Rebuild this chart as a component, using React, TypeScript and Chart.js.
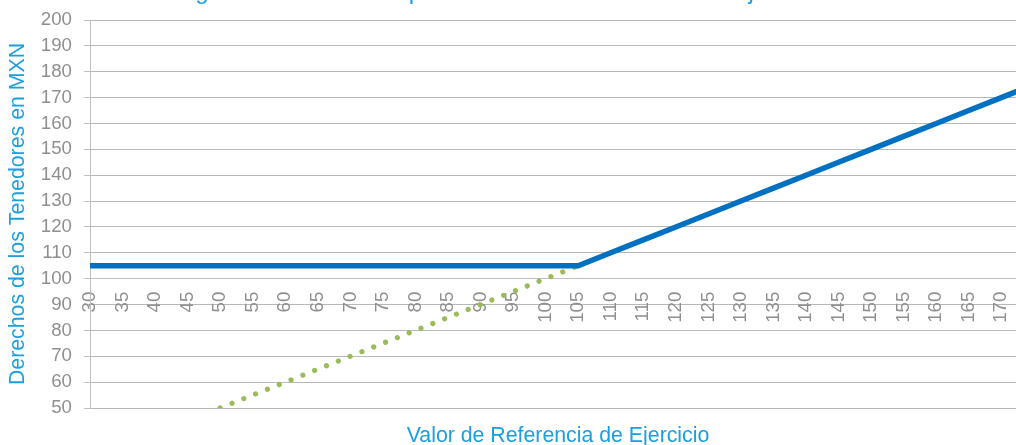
import React, { useEffect, useRef } from 'react';
import { Chart, registerables } from 'chart.js';

Chart.register(...registerables);

// ---- Data ----
const strikes = [30, 35, 40, 45, 50, 55, 60, 65, 70, 75, 80, 85, 90, 95, 100, 105, 110, 115, 120, 125, 130, 135, 140, 145, 150, 155, 160, 165, 170, 175];
const holderRights = [105, 105, 105, 105, 105, 105, 105, 105, 105, 105, 105, 105, 105, 105, 105, 105, 110, 115, 120, 125, 130, 135, 140, 145, 150, 155, 160, 165, 170, 175];
const referenceValue: (number | null)[] = [null, null, null, null, 50, 55, 60, 65, 70, 75, 80, 85, 90, 95, 100, 105, null, null, null, null, null, null, null, null, null, null, null, null, null, null];
const xTickValues = [30, 35, 40, 45, 50, 55, 60, 65, 70, 75, 80, 85, 90, 95, 100, 105, 110, 115, 120, 125, 130, 135, 140, 145, 150, 155, 160, 165, 170];
const yMin = 50;
const yMax = 200;
const yStep = 10;
const xAxisCross = 100;

const chartTitle = 'Pagos de los Títulos Opcionales relativos al Valor de Ejercicio';
const xTitle = 'Valor de Referencia de Ejercicio';
const yTitle = 'Derechos de los Tenedores en MXN';

const FONT = '"Liberation Sans", Arial, sans-serif';
const BLUE_TEXT = '#1a9fe0';
const GRAY_TEXT = '#8f8f8f';
const AXIS_GRAY = '#bfbfbf';

const textOverlay = {
  id: 'textOverlay',
  afterDraw(chart: any) {
    const ctx = chart.ctx;
    ctx.save();
    ctx.fillStyle = BLUE_TEXT;
    ctx.textBaseline = 'alphabetic';
    ctx.textAlign = 'left';
    ctx.font = `24px ${FONT}`;
    ctx.fillText(chartTitle, 166, -1);
    ctx.textAlign = 'center';
    ctx.font = `21.3px ${FONT}`;
    ctx.fillText(xTitle, 558, 442);
    ctx.restore();
  },
};

export default function App() {
  const canvasRef = useRef<HTMLCanvasElement | null>(null);

  useEffect(() => {
    if (!canvasRef.current) return;
    const blueData = strikes.map((x, i) => ({ x, y: holderRights[i] }));
    const greenData = strikes
      .map((x, i) => ({ x, y: referenceValue[i] }))
      .filter((p) => p.y !== null);

    const chart = new Chart(canvasRef.current, {
      type: 'line',
      data: {
        datasets: [
          {
            label: 'Derechos',
            data: blueData as any,
            borderColor: '#0070c0',
            borderWidth: 5.5,
            borderCapStyle: 'round',
            borderJoinStyle: 'miter',
            pointRadius: 0,
            fill: false,
            tension: 0,
          },
          {
            label: 'Referencia',
            data: greenData as any,
            borderColor: '#9bbb59',
            borderWidth: 5.2,
            borderCapStyle: 'round',
            borderDash: [0.01, 12.7],
            pointRadius: 0,
            fill: false,
            tension: 0,
          },
        ],
      },
      options: {
        responsive: false,
        animation: false,
        devicePixelRatio: 1,
        layout: { padding: { top: 20, bottom: 37, left: 0, right: 0 } },
        plugins: {
          legend: { display: false },
          tooltip: { enabled: false },
          title: { display: false },
        },
        scales: {
          x: {
            type: 'linear',
            position: { y: xAxisCross } as any,
            min: 30,
            max: 184.4,
            afterBuildTicks: (scale: any) => {
              scale.ticks = xTickValues.map((v) => ({ value: v }));
            },
            grid: { display: false, drawTicks: false },
            border: { display: true, color: AXIS_GRAY, width: 1 },
            ticks: {
              autoSkip: false,
              minRotation: 90,
              maxRotation: 90,
              padding: 13,
              color: GRAY_TEXT,
              font: { family: FONT, size: 18.67 },
            },
          },
          y: {
            type: 'linear',
            position: 'left',
            min: yMin,
            max: yMax,
            afterFit: (scale: any) => {
              scale.width = 90;
              scale.paddingTop = 4;
              scale.paddingBottom = 4;
            },
            ticks: {
              stepSize: yStep,
              padding: 12,
              color: GRAY_TEXT,
              font: { family: FONT, size: 18.67 },
            },
            grid: {
              color: '#b8b8b8',
              lineWidth: 1,
              borderDash: [1, 1],
              drawTicks: true,
              tickLength: 6,
              tickColor: AXIS_GRAY,
              tickBorderDash: [],
            } as any,
            border: { display: true, color: AXIS_GRAY, width: 1 },
            title: {
              display: true,
              text: yTitle,
              color: BLUE_TEXT,
              font: { family: FONT, size: 21.3 },
              padding: { top: 5, bottom: 0 },
            },
          },
        },
      } as any,
      plugins: [textOverlay],
    });

    return () => chart.destroy();
  }, []);

  return (
    <div style={{ position: 'absolute', left: 0, top: 0, width: 1016, height: 445, overflow: 'hidden', background: '#ffffff' }}>
      <canvas ref={canvasRef} width={1095} height={445} style={{ width: 1095, height: 445, display: 'block' }} />
    </div>
  );
}
